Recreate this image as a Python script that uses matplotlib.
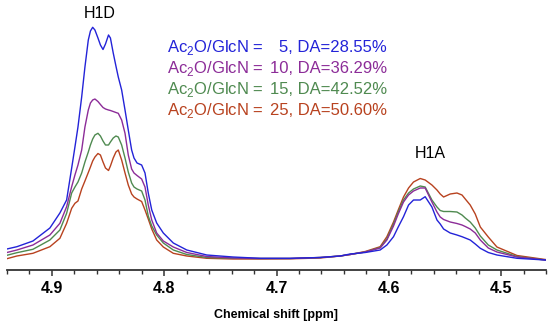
import numpy as np
from matplotlib import pyplot as plt
from matplotlib.ticker import MultipleLocator

plt.rcParams['font.family'] = ['Liberation Sans', 'DejaVu Sans']
plt.rcParams['mathtext.fontset'] = 'custom'
plt.rcParams['mathtext.rm'] = 'Liberation Sans'

# chemical shift grid (ppm) shared by the four spectra
shift = [4.9401, 4.9312, 4.9169, 4.9018, 4.8929, 4.8869, 4.8824, 4.8795, 4.8768, 4.8735,
         4.8706, 4.8676, 4.8657, 4.8637, 4.8617, 4.8590, 4.8568, 4.8545, 4.8523, 4.8496,
         4.8479, 4.8454, 4.8430, 4.8409, 4.8379, 4.8349, 4.8320, 4.8290, 4.8269, 4.8242,
         4.8201, 4.8171, 4.8142, 4.8111, 4.8067, 4.8008, 4.7919, 4.7799, 4.7621, 4.7387,
         4.7146, 4.6879, 4.6611, 4.6433, 4.6344, 4.6210, 4.6077, 4.6017, 4.5958, 4.5916,
         4.5869, 4.5824, 4.5780, 4.5720, 4.5676, 4.5616, 4.5571, 4.5542, 4.5512, 4.5453,
         4.5393, 4.5348, 4.5319, 4.5275, 4.5230, 4.5185, 4.5114, 4.5037, 4.4858, 4.4606]

# intensities (arbitrary units)
int_5 = [21, 23.3, 29, 42, 57, 70, 102, 123, 143, 173,
         203, 230, 239, 242.7, 240, 232, 225, 220.5, 226, 235,
         232, 217, 204, 193, 180, 160, 140, 120, 112, 107,
         105, 97, 77, 60, 47, 37, 27, 20, 15, 13,
         11.7, 11.7, 12.5, 14, 16, 17.5, 20, 25, 33.3, 43,
         53.3, 65, 70, 70, 73.3, 63, 50, 46, 41, 37,
         35, 33.3, 32, 30, 26, 21.7, 17.5, 15, 11.7, 10]
int_10 = [17.5, 20, 25, 35, 46.7, 63.3, 83.3, 95, 105, 120,
          143, 160, 167, 170, 171, 168.5, 165.5, 162.5, 161, 160,
          159.5, 158.5, 157.5, 156.7, 150, 136.7, 115, 101, 97, 94.5,
          91, 83, 65, 50, 37, 29, 23, 17.5, 13.5, 12,
          11.5, 11.5, 12.5, 14, 15.5, 18, 22, 30, 44, 56,
          68, 75, 79, 82, 82, 68, 58, 53, 50.5, 48,
          46.5, 45, 43.5, 41, 37, 30, 22, 18, 13, 10]
int_15 = [14.7, 17.3, 20.7, 30, 40, 56.7, 77, 83, 88, 97,
          108, 118, 125, 131, 135, 136.7, 134, 129, 125, 125,
          128, 132, 134, 133, 125, 112, 98, 87, 83, 81,
          79, 70, 54, 44, 35, 27, 20, 15.5, 12.5, 11.7,
          11.5, 11.5, 12.5, 14, 15.5, 18, 22.5, 31, 46, 58,
          70, 77, 81, 84, 83, 70, 63, 59.5, 58.5, 58.5,
          58, 55, 52, 48, 42, 34, 25, 20, 13.5, 10]
int_25 = [11.3, 14, 16.7, 23.3, 31.7, 46.7, 61.7, 66.7, 69, 81,
          89, 97.5, 103, 109, 113, 116.5, 115, 108, 102, 99.5,
          104, 112, 118, 120, 110, 97, 85, 76, 73, 71,
          68.5, 60, 51, 41, 30, 23, 16.7, 14, 11.7, 11,
          11, 11.2, 12, 14, 15.5, 18.5, 23.3, 33.3, 48, 60,
          73, 82, 88, 91.5, 90, 85, 80, 76, 73, 76,
          77, 75, 71, 65, 56, 43, 33, 23, 14.5, 10.5]

ratios = ['5', '10', '15', '25']
da = ['28.55%', '36.29%', '42.52%', '50.60%']
colors = ['#2323d8', '#8c2c98', '#4f8a50', '#b8421f']
spectra = [int_5, int_10, int_15, int_25]

fig = plt.figure(figsize=(5.5, 3.22), dpi=100)
ax = fig.add_axes([7 / 550, 1 - 270 / 322, 539 / 550, 270 / 322])

for y, c in zip(spectra[::-1], colors[::-1]):
    ax.plot(shift, y, color=c, lw=1.0)

ax.set_xlim(4.94, 4.46)
ax.set_ylim(0, 270)

for s in ['left', 'right', 'top']:
    ax.spines[s].set_visible(False)
ax.spines['bottom'].set_color('#333333')
ax.spines['bottom'].set_linewidth(1.3)
ax.set_yticks([])
ax.xaxis.set_major_locator(MultipleLocator(0.1))
ax.xaxis.set_minor_locator(MultipleLocator(0.02))
ax.tick_params(axis='x', which='major', length=4.5, width=1.1, color='#333333',
               pad=3.5, labelsize=11.5)
ax.tick_params(axis='x', which='minor', length=2.6, width=1.0, color='#333333')
for lab in ax.get_xticklabels():
    lab.set_fontweight('bold')
ax.set_xlabel('Chemical shift [ppm]', fontsize=9, fontweight='bold', labelpad=9)

ax.text(4.8572, 257, 'H1D', fontsize=11.5, ha='center', va='center')
ax.text(4.5631, 116, 'H1A', fontsize=11.5, ha='center', va='center')

base = [217.7, 196.8, 176.0, 155.2]
for r, d, c, b in zip(ratios, da, colors, base):
    ax.text(4.7978, b, r'Ac$_\mathregular{2}$O/GlcN =', color=c, fontsize=12, va='baseline')
    ax.text(4.6018, b, r + ', DA=' + d, color=c, fontsize=12, va='baseline', ha='right')

fig.savefig('out.png', dpi=100)
